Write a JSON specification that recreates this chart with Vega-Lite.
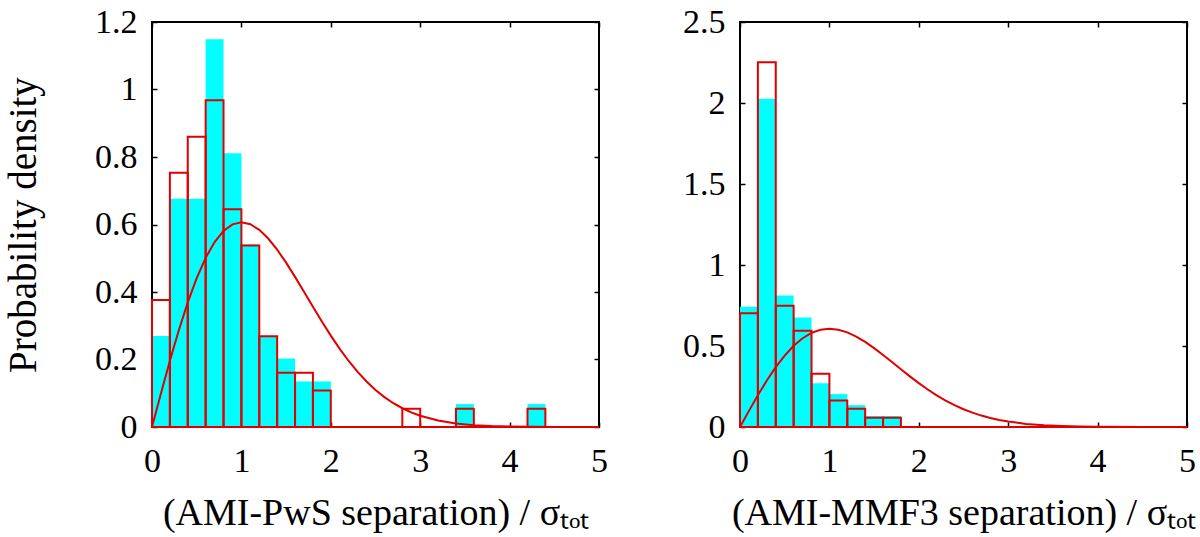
{
  "$schema": "https://vega.github.io/schema/vega-lite/v6.json",
  "background": "white",
  "padding": {"left": 3, "top": 4, "right": 3, "bottom": 0},
  "spacing": 72,
  "config": {
    "font": "Liberation Serif",
    "view": {"stroke": "black", "strokeWidth": 2},
    "axis": {
      "domain": false,
      "grid": false,
      "tickColor": "black",
      "tickSize": -5,
      "tickWidth": 1.5,
      "labelFont": "Liberation Serif",
      "labelFontSize": 34,
      "labelColor": "black",
      "labelFlush": false,
      "labelOverlap": false,
      "titleFont": "Liberation Serif",
      "titleFontSize": 38,
      "titleFontWeight": "normal",
      "titleColor": "black"
    }
  },
  "datasets": {
    "pws_fill": [
      {"bin_start": 0.0, "bin_end": 0.2, "density": 0.270},
      {"bin_start": 0.2, "bin_end": 0.4, "density": 0.676},
      {"bin_start": 0.4, "bin_end": 0.6, "density": 0.676},
      {"bin_start": 0.6, "bin_end": 0.8, "density": 1.149},
      {"bin_start": 0.8, "bin_end": 1.0, "density": 0.811},
      {"bin_start": 1.0, "bin_end": 1.2, "density": 0.541},
      {"bin_start": 1.2, "bin_end": 1.4, "density": 0.270},
      {"bin_start": 1.4, "bin_end": 1.6, "density": 0.203},
      {"bin_start": 1.6, "bin_end": 1.8, "density": 0.135},
      {"bin_start": 1.8, "bin_end": 2.0, "density": 0.135},
      {"bin_start": 3.4, "bin_end": 3.6, "density": 0.068},
      {"bin_start": 4.2, "bin_end": 4.4, "density": 0.068}
    ],
    "pws_edge": [
      {"bin_start": 0.0, "bin_end": 0.2, "density": 0.376},
      {"bin_start": 0.2, "bin_end": 0.4, "density": 0.753},
      {"bin_start": 0.4, "bin_end": 0.6, "density": 0.860},
      {"bin_start": 0.6, "bin_end": 0.8, "density": 0.968},
      {"bin_start": 0.8, "bin_end": 1.0, "density": 0.645},
      {"bin_start": 1.0, "bin_end": 1.2, "density": 0.538},
      {"bin_start": 1.2, "bin_end": 1.4, "density": 0.269},
      {"bin_start": 1.4, "bin_end": 1.6, "density": 0.161},
      {"bin_start": 1.6, "bin_end": 1.8, "density": 0.161},
      {"bin_start": 1.8, "bin_end": 2.0, "density": 0.108},
      {"bin_start": 2.0, "bin_end": 2.8, "density": 0},
      {"bin_start": 2.8, "bin_end": 3.0, "density": 0.054},
      {"bin_start": 3.0, "bin_end": 3.4, "density": 0},
      {"bin_start": 3.4, "bin_end": 3.6, "density": 0.054},
      {"bin_start": 3.6, "bin_end": 4.2, "density": 0},
      {"bin_start": 4.2, "bin_end": 4.4, "density": 0.054},
      {"bin_start": 4.4, "bin_end": 5.0, "density": 0}
    ],
    "mmf_fill": [
      {"bin_start": 0.0, "bin_end": 0.2, "density": 0.743},
      {"bin_start": 0.2, "bin_end": 0.4, "density": 2.027},
      {"bin_start": 0.4, "bin_end": 0.6, "density": 0.811},
      {"bin_start": 0.6, "bin_end": 0.8, "density": 0.676},
      {"bin_start": 0.8, "bin_end": 1.0, "density": 0.270},
      {"bin_start": 1.0, "bin_end": 1.2, "density": 0.203},
      {"bin_start": 1.2, "bin_end": 1.4, "density": 0.135},
      {"bin_start": 1.4, "bin_end": 1.6, "density": 0.068},
      {"bin_start": 1.6, "bin_end": 1.8, "density": 0.068}
    ],
    "mmf_edge": [
      {"bin_start": 0.0, "bin_end": 0.2, "density": 0.702},
      {"bin_start": 0.2, "bin_end": 0.4, "density": 2.252},
      {"bin_start": 0.4, "bin_end": 0.6, "density": 0.749},
      {"bin_start": 0.6, "bin_end": 0.8, "density": 0.594},
      {"bin_start": 0.8, "bin_end": 1.0, "density": 0.328},
      {"bin_start": 1.0, "bin_end": 1.2, "density": 0.164},
      {"bin_start": 1.2, "bin_end": 1.4, "density": 0.113},
      {"bin_start": 1.4, "bin_end": 1.6, "density": 0.057},
      {"bin_start": 1.6, "bin_end": 1.8, "density": 0.057},
      {"bin_start": 1.8, "bin_end": 5.0, "density": 0}
    ],
    "curve": [
      {"x": 0.0, "pdf": 0.0},
      {"x": 0.1, "pdf": 0.0995},
      {"x": 0.2, "pdf": 0.1960},
      {"x": 0.3, "pdf": 0.2868},
      {"x": 0.4, "pdf": 0.3692},
      {"x": 0.5, "pdf": 0.4412},
      {"x": 0.6, "pdf": 0.5012},
      {"x": 0.7, "pdf": 0.5479},
      {"x": 0.8, "pdf": 0.5809},
      {"x": 0.9, "pdf": 0.6003},
      {"x": 1.0, "pdf": 0.6065},
      {"x": 1.1, "pdf": 0.6007},
      {"x": 1.2, "pdf": 0.5841},
      {"x": 1.3, "pdf": 0.5585},
      {"x": 1.4, "pdf": 0.5254},
      {"x": 1.5, "pdf": 0.4870},
      {"x": 1.6, "pdf": 0.4448},
      {"x": 1.7, "pdf": 0.4007},
      {"x": 1.8, "pdf": 0.3562},
      {"x": 1.9, "pdf": 0.3125},
      {"x": 2.0, "pdf": 0.2707},
      {"x": 2.1, "pdf": 0.2315},
      {"x": 2.2, "pdf": 0.1956},
      {"x": 2.3, "pdf": 0.1633},
      {"x": 2.4, "pdf": 0.1347},
      {"x": 2.5, "pdf": 0.1098},
      {"x": 2.6, "pdf": 0.0885},
      {"x": 2.7, "pdf": 0.0705},
      {"x": 2.8, "pdf": 0.0556},
      {"x": 2.9, "pdf": 0.0433},
      {"x": 3.0, "pdf": 0.0333},
      {"x": 3.2, "pdf": 0.0191},
      {"x": 3.4, "pdf": 0.0105},
      {"x": 3.6, "pdf": 0.0055},
      {"x": 3.8, "pdf": 0.0028},
      {"x": 4.0, "pdf": 0.0013},
      {"x": 4.5, "pdf": 0.0002},
      {"x": 5.0, "pdf": 0.0}
    ]
  },
  "hconcat": [
    {
      "width": 447,
      "height": 405,
      "resolve": {"axis": {"x": "independent", "y": "independent"}},
      "layer": [
        {
          "data": {"name": "pws_fill"},
          "mark": {"type": "bar", "color": "#00ffff"},
          "encoding": {
            "x": {
              "field": "bin_start", "type": "quantitative",
              "scale": {"domain": [0, 5], "nice": false},
              "axis": {"orient": "bottom", "values": [0, 1, 2, 3, 4, 5], "labelPadding": 22, "titlePadding": 16, "title": "(AMI-PwS separation) / σₜₒₜ"}
            },
            "x2": {"field": "bin_end"},
            "y": {
              "field": "density", "type": "quantitative",
              "scale": {"domain": [0, 1.2], "nice": false},
              "axis": {"orient": "left", "values": [0, 0.2, 0.4, 0.6, 0.8, 1, 1.2], "format": "~g", "labelPadding": 20, "titlePadding": 51, "titleFontSize": 39, "title": "Probability density"}
            },
            "y2": {"datum": 0}
          }
        },
        {
          "data": {"name": "pws_edge"},
          "mark": {"type": "bar", "filled": false, "color": "#e00000", "strokeWidth": 2},
          "encoding": {
            "x": {
              "field": "bin_start", "type": "quantitative",
              "axis": {"orient": "top", "values": [0, 1, 2, 3, 4, 5], "labels": false, "title": null}
            },
            "x2": {"field": "bin_end"},
            "y": {
              "field": "density", "type": "quantitative",
              "axis": {"orient": "right", "values": [0, 0.2, 0.4, 0.6, 0.8, 1, 1.2], "labels": false, "title": null}
            },
            "y2": {"datum": 0}
          }
        },
        {
          "data": {"name": "curve"},
          "mark": {"type": "line", "color": "#e00000", "strokeWidth": 2},
          "encoding": {
            "x": {"field": "x", "type": "quantitative", "axis": null},
            "y": {"field": "pdf", "type": "quantitative", "axis": null}
          }
        }
      ]
    },
    {
      "width": 447,
      "height": 405,
      "resolve": {"axis": {"x": "independent", "y": "independent"}},
      "layer": [
        {
          "data": {"name": "mmf_fill"},
          "mark": {"type": "bar", "color": "#00ffff"},
          "encoding": {
            "x": {
              "field": "bin_start", "type": "quantitative",
              "scale": {"domain": [0, 5], "nice": false},
              "axis": {"orient": "bottom", "values": [0, 1, 2, 3, 4, 5], "labelPadding": 22, "titlePadding": 16, "title": "(AMI-MMF3 separation) / σₜₒₜ"}
            },
            "x2": {"field": "bin_end"},
            "y": {
              "field": "density", "type": "quantitative",
              "scale": {"domain": [0, 2.5], "nice": false},
              "axis": {"orient": "left", "values": [0, 0.5, 1, 1.5, 2, 2.5], "format": "~g", "labelPadding": 20, "title": null}
            },
            "y2": {"datum": 0}
          }
        },
        {
          "data": {"name": "mmf_edge"},
          "mark": {"type": "bar", "filled": false, "color": "#e00000", "strokeWidth": 2},
          "encoding": {
            "x": {
              "field": "bin_start", "type": "quantitative",
              "axis": {"orient": "top", "values": [0, 1, 2, 3, 4, 5], "labels": false, "title": null}
            },
            "x2": {"field": "bin_end"},
            "y": {
              "field": "density", "type": "quantitative",
              "axis": {"orient": "right", "values": [0, 0.5, 1, 1.5, 2, 2.5], "labels": false, "title": null}
            },
            "y2": {"datum": 0}
          }
        },
        {
          "data": {"name": "curve"},
          "mark": {"type": "line", "color": "#e00000", "strokeWidth": 2},
          "encoding": {
            "x": {"field": "x", "type": "quantitative", "axis": null},
            "y": {"field": "pdf", "type": "quantitative", "axis": null}
          }
        }
      ]
    }
  ]
}
